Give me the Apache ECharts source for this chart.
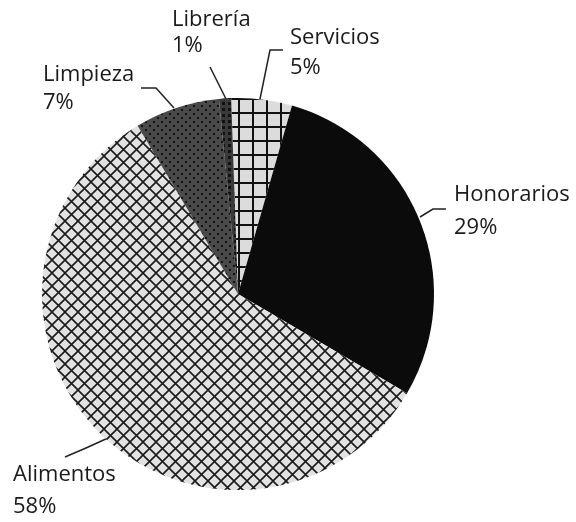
<!DOCTYPE html>
<html>
<head>
<meta charset="utf-8">
<script src="https://cdn.jsdelivr.net/npm/echarts@6/dist/echarts.min.js"></script>
<style>
html,body{margin:0;padding:0;background:#fff;}
#chart{width:576px;height:522px;}
</style>
</head>
<body>
<div id="chart"></div>
<script>
// Data
const categories = ['Servicios', 'Honorarios', 'Alimentos', 'Limpieza', 'Librería'];
const values = [5, 29, 58, 7, 1];

// Label layout (positions only)
const labelPos = {
  'Servicios':  { x: 290, y: 23,  lh: 30, line: [[260, 99], [270, 50], [283, 50]] },
  'Honorarios': { x: 454, y: 178, lh: 33, line: [[420, 217], [433, 209], [446, 209]] },
  'Alimentos':  { x: 13,  y: 459, lh: 32, line: [[108, 438], [86, 448], [65, 457]] },
  'Limpieza':   { x: 43,  y: 61,  lh: 28, line: [[174, 108], [156, 88], [141, 88]] },
  'Librería':   { x: 172, y: 7,   lh: 26, line: [[226, 99], [218, 83], [210, 67]] }
};

function makeCanvas(w, h, draw) {
  const c = document.createElement('canvas');
  c.width = w; c.height = h;
  draw(c.getContext('2d'), w, h);
  return c;
}
const gridPattern = makeCanvas(14, 14, (g, w, h) => {
  g.fillStyle = '#dcdcdc'; g.fillRect(0, 0, w, h);
  g.fillStyle = '#111';
  g.fillRect(0, 0, 2, h);
  g.fillRect(0, 0, w, 2);
});
const crossPattern = makeCanvas(13, 13, (g, w, h) => {
  g.fillStyle = '#e2e2e2'; g.fillRect(0, 0, w, h);
  g.strokeStyle = '#1a1a1a'; g.lineWidth = 1.6;
  g.beginPath();
  g.moveTo(-1, -1); g.lineTo(w + 1, h + 1);
  g.moveTo(w + 1, -1); g.lineTo(-1, h + 1);
  g.stroke();
});
const dotPattern = makeCanvas(8, 8, (g, w, h) => {
  g.fillStyle = '#4a4a4a'; g.fillRect(0, 0, w, h);
  g.fillStyle = '#111';
  g.fillRect(1, 1, 2, 2);
  g.fillRect(5, 5, 2, 2);
});
const zigPattern = makeCanvas(6, 6, (g, w, h) => {
  g.fillStyle = '#3a3a3a'; g.fillRect(0, 0, w, h);
  g.fillStyle = '#111';
  g.fillRect(0, 0, 3, 3);
});

const fills = {
  'Servicios': { image: gridPattern, repeat: 'repeat' },
  'Honorarios': '#0b0b0b',
  'Alimentos': { image: crossPattern, repeat: 'repeat' },
  'Limpieza': { image: dotPattern, repeat: 'repeat' },
  'Librería': { image: zigPattern, repeat: 'repeat' }
};

const chart = echarts.init(document.getElementById('chart'), null, { renderer: 'canvas' });
chart.setOption({
  animation: false,
  backgroundColor: '#fff',
  series: [{
    type: 'pie',
    center: [238, 294],
    radius: [0, 196],
    startAngle: 92,
    clockwise: true,
    avoidLabelOverlap: false,
    data: categories.map((c, i) => ({
      name: c,
      value: values[i],
      itemStyle: { color: fills[c] },
      label: { lineHeight: labelPos[c].lh }
    })),
    itemStyle: { borderWidth: 0 },
    label: {
      show: true,
      position: 'outside',
      formatter: '{b}\n{d}%',
      fontFamily: 'Open Sans',
      fontSize: 22,
      lineHeight: 30,
      color: '#1a1a1a',
      align: 'left',
      overflow: 'none',
      width: 200
    },
    labelLine: {
      show: true,
      lineStyle: { color: '#222', width: 1.5 }
    },
    labelLayout: function (params) {
      const p = labelPos[categories[params.dataIndex]];
      return {
        x: p.x, y: p.y,
        align: 'left', verticalAlign: 'top',
        labelLinePoints: p.line
      };
    }
  }]
});
</script>
</body>
</html>
